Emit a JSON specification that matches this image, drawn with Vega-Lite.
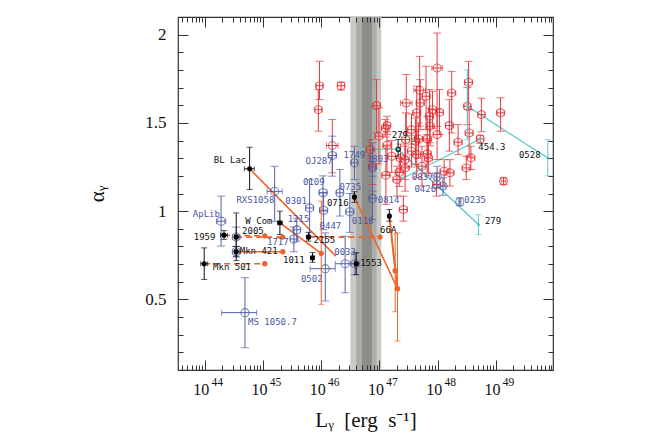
{
  "$schema": "https://vega.github.io/schema/vega-lite/v6.json",
  "autosize": {"type": "none"},
  "padding": {"left": 178, "top": 17, "right": 101, "bottom": 66},
  "width": 375,
  "height": 353,
  "config": {"view": {"stroke": "#333", "strokeWidth": 1.2}, "font": "Liberation Serif"},
  "resolve": {"axis": {"x": "independent", "y": "independent"}, "scale": {"color": "independent", "strokeDash": "independent"}},
  "datasets": {
    "band": [
      {"lvl": 1, "lo": 46.50, "hi": 47.03},
      {"lvl": 2, "lo": 46.60, "hi": 46.95},
      {"lvl": 3, "lo": 46.70, "hi": 46.87}
    ],
    "fsrq": [
      {"L": 47.99, "a": 1.811, "lo": 1.48, "hi": 2.01, "Llo": 47.90, "Lhi": 48.08},
      {"L": 48.53, "a": 1.730, "lo": 1.575, "hi": 1.849, "Llo": 48.46, "Lhi": 48.60},
      {"L": 48.24, "a": 1.670, "lo": 1.443, "hi": 1.792, "Llo": 48.17, "Lhi": 48.31},
      {"L": 47.69, "a": 1.685, "lo": 1.481, "hi": 1.877, "Llo": 47.59, "Lhi": 47.79},
      {"L": 47.80, "a": 1.651, "lo": 1.462, "hi": 1.821, "Llo": 47.73, "Lhi": 47.87},
      {"L": 47.46, "a": 1.613, "lo": 1.443, "hi": 1.774, "Llo": 47.36, "Lhi": 47.56},
      {"L": 47.70, "a": 1.613, "lo": 1.462, "hi": 1.745, "Llo": 47.63, "Lhi": 47.77},
      {"L": 46.95, "a": 1.598, "lo": 1.443, "hi": 1.745, "Llo": 46.88, "Lhi": 47.02},
      {"L": 45.97, "a": 1.711, "lo": 1.632, "hi": 1.849, "Llo": 45.91, "Lhi": 46.03},
      {"L": 45.95, "a": 1.575, "lo": 1.453, "hi": 1.689, "Llo": 45.89, "Lhi": 46.01},
      {"L": 46.34, "a": 1.711, "lo": 1.685, "hi": 1.730, "Llo": 46.28, "Lhi": 46.40},
      {"L": 48.51, "a": 1.594, "lo": 1.49, "hi": 1.70, "Llo": 48.45, "Lhi": 48.57},
      {"L": 48.75, "a": 1.547, "lo": 1.45, "hi": 1.64, "Llo": 48.69, "Lhi": 48.81},
      {"L": 49.08, "a": 1.557, "lo": 1.453, "hi": 1.642, "Llo": 49.01, "Lhi": 49.15},
      {"L": 47.64, "a": 1.557, "lo": 1.406, "hi": 1.708, "Llo": 47.57, "Lhi": 47.71},
      {"L": 47.86, "a": 1.538, "lo": 1.387, "hi": 1.689, "Llo": 47.79, "Lhi": 47.93},
      {"L": 48.03, "a": 1.560, "lo": 1.434, "hi": 1.689, "Llo": 47.96, "Lhi": 48.10},
      {"L": 48.20, "a": 1.485, "lo": 1.340, "hi": 1.632, "Llo": 48.13, "Lhi": 48.27},
      {"L": 47.87, "a": 1.481, "lo": 1.37, "hi": 1.58, "Llo": 47.80, "Lhi": 47.94},
      {"L": 47.13, "a": 1.485, "lo": 1.434, "hi": 1.538, "Llo": 47.07, "Lhi": 47.19},
      {"L": 47.10, "a": 1.470, "lo": 1.42, "hi": 1.52, "Llo": 47.04, "Lhi": 47.16},
      {"L": 46.99, "a": 1.425, "lo": 1.268, "hi": 1.585, "Llo": 46.92, "Lhi": 47.06},
      {"L": 47.13, "a": 1.374, "lo": 1.202, "hi": 1.45, "Llo": 47.06, "Lhi": 47.20},
      {"L": 47.45, "a": 1.406, "lo": 1.255, "hi": 1.557, "Llo": 47.38, "Lhi": 47.52},
      {"L": 47.62, "a": 1.396, "lo": 1.264, "hi": 1.528, "Llo": 47.55, "Lhi": 47.69},
      {"L": 47.82, "a": 1.409, "lo": 1.283, "hi": 1.538, "Llo": 47.75, "Lhi": 47.89},
      {"L": 47.99, "a": 1.434, "lo": 1.292, "hi": 1.575, "Llo": 47.92, "Lhi": 48.06},
      {"L": 48.35, "a": 1.391, "lo": 1.321, "hi": 1.491, "Llo": 48.28, "Lhi": 48.42},
      {"L": 48.54, "a": 1.443, "lo": 1.311, "hi": 1.575, "Llo": 48.47, "Lhi": 48.61},
      {"L": 46.84, "a": 1.349, "lo": 1.300, "hi": 1.406, "Llo": 46.77, "Lhi": 46.91},
      {"L": 46.19, "a": 1.372, "lo": 1.217, "hi": 1.519, "Llo": 46.09, "Lhi": 46.29},
      {"L": 47.44, "a": 1.292, "lo": 1.179, "hi": 1.406, "Llo": 47.37, "Lhi": 47.51},
      {"L": 47.64, "a": 1.321, "lo": 1.189, "hi": 1.453, "Llo": 47.57, "Lhi": 47.71},
      {"L": 47.82, "a": 1.325, "lo": 1.217, "hi": 1.434, "Llo": 47.75, "Lhi": 47.89},
      {"L": 48.57, "a": 1.302, "lo": 1.236, "hi": 1.368, "Llo": 48.50, "Lhi": 48.64},
      {"L": 47.73, "a": 1.255, "lo": 1.142, "hi": 1.368, "Llo": 47.66, "Lhi": 47.80},
      {"L": 48.49, "a": 1.245, "lo": 1.179, "hi": 1.311, "Llo": 48.42, "Lhi": 48.56},
      {"L": 48.21, "a": 1.217, "lo": 1.142, "hi": 1.292, "Llo": 48.14, "Lhi": 48.28},
      {"L": 48.11, "a": 1.226, "lo": 1.142, "hi": 1.292, "Llo": 48.04, "Lhi": 48.18},
      {"L": 47.11, "a": 1.204, "lo": 1.038, "hi": 1.368, "Llo": 47.04, "Lhi": 47.18},
      {"L": 47.30, "a": 1.179, "lo": 1.085, "hi": 1.255, "Llo": 47.23, "Lhi": 47.37},
      {"L": 47.44, "a": 1.245, "lo": 1.113, "hi": 1.368, "Llo": 47.37, "Lhi": 47.51},
      {"L": 47.41, "a": 1.009, "lo": 0.943, "hi": 1.085, "Llo": 47.34, "Lhi": 47.48},
      {"L": 49.13, "a": 1.170, "lo": 1.151, "hi": 1.189, "Llo": 49.09, "Lhi": 49.17},
      {"L": 46.88, "a": 1.255, "lo": 1.151, "hi": 1.349, "Llo": 46.81, "Lhi": 46.95},
      {"L": 47.21, "a": 1.311, "lo": 1.22, "hi": 1.40, "Llo": 47.14, "Lhi": 47.28},
      {"L": 47.98, "a": 1.151, "lo": 1.085, "hi": 1.217, "Llo": 47.91, "Lhi": 48.05},
      {"L": 47.55, "a": 1.462, "lo": 1.38, "hi": 1.55, "Llo": 47.48, "Lhi": 47.62},
      {"L": 47.91, "a": 1.575, "lo": 1.47, "hi": 1.68, "Llo": 47.84, "Lhi": 47.98},
      {"L": 48.73, "a": 1.409, "lo": 1.385, "hi": 1.43, "Llo": 48.67, "Lhi": 48.79},
      {"L": 47.55, "a": 1.340, "lo": 1.25, "hi": 1.43, "Llo": 47.48, "Lhi": 47.62},
      {"L": 47.34, "a": 1.220, "lo": 1.14, "hi": 1.30, "Llo": 47.27, "Lhi": 47.41},
      {"L": 47.36, "a": 1.300, "lo": 1.22, "hi": 1.38, "Llo": 47.29, "Lhi": 47.43},
      {"L": 47.67, "a": 1.409, "lo": 1.30, "hi": 1.50, "Llo": 47.60, "Lhi": 47.74},
      {"L": 47.84, "a": 1.300, "lo": 1.20, "hi": 1.40, "Llo": 47.77, "Lhi": 47.91}
    ],
    "bll": [
      {"L": 44.28, "a": 0.943, "lo": 0.802, "hi": 1.085, "Llo": 44.20, "Lhi": 44.36},
      {"L": 44.69, "a": 0.425, "lo": 0.226, "hi": 0.623, "Llo": 44.29, "Lhi": 44.89},
      {"L": 45.20, "a": 1.112, "lo": 0.942, "hi": 1.254, "Llo": 45.07, "Lhi": 45.33},
      {"L": 45.80, "a": 1.018, "lo": 0.857, "hi": 1.178, "Llo": 45.73, "Lhi": 45.87},
      {"L": 45.58, "a": 0.895, "lo": 0.83, "hi": 0.96, "Llo": 45.52, "Lhi": 45.64},
      {"L": 45.53, "a": 0.842, "lo": 0.77, "hi": 0.91, "Llo": 45.47, "Lhi": 45.59},
      {"L": 46.03, "a": 1.105, "lo": 1.00, "hi": 1.20, "Llo": 45.96, "Lhi": 46.10},
      {"L": 46.04, "a": 1.005, "lo": 0.895, "hi": 1.103, "Llo": 45.97, "Lhi": 46.11},
      {"L": 46.32, "a": 1.104, "lo": 0.972, "hi": 1.236, "Llo": 46.26, "Lhi": 46.38},
      {"L": 46.49, "a": 0.996, "lo": 0.88, "hi": 1.10, "Llo": 46.42, "Lhi": 46.56},
      {"L": 46.07, "a": 0.674, "lo": 0.491, "hi": 0.877, "Llo": 45.81, "Lhi": 46.24},
      {"L": 46.41, "a": 0.702, "lo": 0.538, "hi": 0.858, "Llo": 46.24, "Lhi": 46.58},
      {"L": 46.58, "a": 0.702, "lo": 0.64, "hi": 0.764, "Llo": 46.50, "Lhi": 46.66},
      {"L": 46.19, "a": 1.315, "lo": 1.198, "hi": 1.425, "Llo": 46.12, "Lhi": 46.26},
      {"L": 46.57, "a": 1.274, "lo": 1.179, "hi": 1.368, "Llo": 46.52, "Lhi": 46.62},
      {"L": 46.88, "a": 1.245, "lo": 1.113, "hi": 1.387, "Llo": 46.83, "Lhi": 46.93},
      {"L": 46.88, "a": 1.072, "lo": 0.953, "hi": 1.198, "Llo": 46.83, "Lhi": 46.93},
      {"L": 47.99, "a": 1.194, "lo": 1.132, "hi": 1.255, "Llo": 47.95, "Lhi": 48.03},
      {"L": 48.09, "a": 1.142, "lo": 1.09, "hi": 1.19, "Llo": 48.05, "Lhi": 48.13},
      {"L": 48.38, "a": 1.053, "lo": 1.03, "hi": 1.075, "Llo": 48.36, "Lhi": 48.40},
      {"L": 44.54, "a": 0.853, "lo": 0.80, "hi": 0.91, "Llo": 44.48, "Lhi": 44.60},
      {"L": 44.54, "a": 0.770, "lo": 0.74, "hi": 0.80, "Llo": 44.48, "Lhi": 44.60}
    ],
    "blk": [
      {"L": 44.77, "a": 1.240, "lo": 1.123, "hi": 1.362, "Llo": 44.68, "Lhi": 44.85},
      {"L": 45.29, "a": 0.934, "lo": 0.868, "hi": 1.000, "Llo": 45.25, "Lhi": 45.33},
      {"L": 44.33, "a": 0.864, "lo": 0.84, "hi": 0.89, "Llo": 44.27, "Lhi": 44.39},
      {"L": 44.54, "a": 0.853, "lo": 0.744, "hi": 0.990, "Llo": 44.51, "Lhi": 44.57},
      {"L": 44.54, "a": 0.770, "lo": 0.72, "hi": 0.80, "Llo": 44.51, "Lhi": 44.57},
      {"L": 43.99, "a": 0.702, "lo": 0.613, "hi": 0.792, "Llo": 43.93, "Lhi": 44.05},
      {"L": 45.85, "a": 0.736, "lo": 0.71, "hi": 0.765, "Llo": 45.82, "Lhi": 45.88},
      {"L": 45.78, "a": 0.853, "lo": 0.83, "hi": 0.88, "Llo": 45.75, "Lhi": 45.81},
      {"L": 46.57, "a": 1.080, "lo": 1.05, "hi": 1.11, "Llo": 46.55, "Lhi": 46.59},
      {"L": 46.60, "a": 0.702, "lo": 0.64, "hi": 0.764, "Llo": 46.57, "Lhi": 46.63},
      {"L": 47.17, "a": 0.972, "lo": 0.943, "hi": 1.009, "Llo": 47.15, "Lhi": 47.19},
      {"L": 47.32, "a": 1.351, "lo": 1.311, "hi": 1.406, "Llo": 47.30, "Lhi": 47.34}
    ],
    "oline": [
      {"id": "BLLac", "sim": "yes", "L": 44.77, "a": 1.240},
      {"id": "BLLac", "sim": "yes", "L": 46.25, "a": 0.745},
      {"id": "WCom", "sim": "yes", "L": 45.29, "a": 0.934},
      {"id": "WCom", "sim": "yes", "L": 46.00, "a": 0.760},
      {"id": "1959", "sim": "no", "L": 44.33, "a": 0.864},
      {"id": "1959", "sim": "no", "L": 45.03, "a": 0.860},
      {"id": "2005", "sim": "no", "L": 44.54, "a": 0.853},
      {"id": "2005", "sim": "no", "L": 45.34, "a": 0.853},
      {"id": "Mkn421", "sim": "yes", "L": 44.54, "a": 0.770},
      {"id": "Mkn421", "sim": "yes", "L": 45.34, "a": 0.770},
      {"id": "Mkn501", "sim": "no", "L": 43.99, "a": 0.702},
      {"id": "Mkn501", "sim": "no", "L": 45.03, "a": 0.702},
      {"id": "2155", "sim": "no", "L": 45.78, "a": 0.853},
      {"id": "2155", "sim": "no", "L": 47.01, "a": 0.853},
      {"id": "0716", "sim": "yes", "L": 46.57, "a": 1.080},
      {"id": "0716", "sim": "yes", "L": 47.31, "a": 0.561},
      {"id": "66A1", "sim": "yes", "L": 47.17, "a": 0.972},
      {"id": "66A1", "sim": "yes", "L": 47.27, "a": 0.663},
      {"id": "66A2", "sim": "yes", "L": 47.17, "a": 0.972},
      {"id": "66A2", "sim": "yes", "L": 47.31, "a": 0.561}
    ],
    "opt": [
      {"L": 46.00, "a": 0.760, "lo": 0.472, "hi": 1.057},
      {"L": 45.03, "a": 0.860, "lo": null, "hi": null},
      {"L": 45.34, "a": 0.853, "lo": null, "hi": null},
      {"L": 45.34, "a": 0.770, "lo": null, "hi": null},
      {"L": 45.03, "a": 0.702, "lo": null, "hi": null},
      {"L": 47.01, "a": 0.853, "lo": null, "hi": null},
      {"L": 47.27, "a": 0.663, "lo": 0.43, "hi": 0.87},
      {"L": 47.31, "a": 0.561, "lo": 0.264, "hi": 0.877}
    ],
    "cline": [
      {"trk": "279", "L": 46.70, "a": 1.351, "lo": null, "hi": null},
      {"trk": "279", "L": 47.32, "a": 1.351, "lo": null, "hi": null},
      {"trk": "279", "L": 48.70, "a": 0.924, "lo": 0.867, "hi": 0.980},
      {"trk": "454.3", "L": 47.41, "a": 1.188, "lo": null, "hi": null},
      {"trk": "454.3", "L": 48.73, "a": 1.409, "lo": null, "hi": null},
      {"trk": "0528", "L": 48.51, "a": 1.594, "lo": 1.405, "hi": 1.80},
      {"trk": "0528", "L": 49.89, "a": 1.301, "lo": 1.20, "hi": 1.405}
    ],
    "lab": [
      {"t": "BL Lac", "L": 44.154, "a": 1.292, "grp": "blk"},
      {"t": "RXS1058", "L": 44.543, "a": 1.066, "grp": "bll"},
      {"t": "0301", "L": 45.383, "a": 1.057, "grp": "bll"},
      {"t": "0109", "L": 45.686, "a": 1.164, "grp": "bll"},
      {"t": "OJ287", "L": 45.731, "a": 1.283, "grp": "bll"},
      {"t": "1749", "L": 46.383, "a": 1.317, "grp": "bll"},
      {"t": "1803", "L": 46.783, "a": 1.296, "grp": "bll"},
      {"t": "0735", "L": 46.314, "a": 1.136, "grp": "bll"},
      {"t": "0716", "L": 46.097, "a": 1.047, "grp": "blk"},
      {"t": "1215", "L": 45.423, "a": 0.957, "grp": "bll"},
      {"t": "W Com", "L": 44.697, "a": 0.947, "grp": "blk"},
      {"t": "ApLib", "L": 43.794, "a": 0.985, "grp": "bll"},
      {"t": "1959", "L": 43.811, "a": 0.855, "grp": "blk"},
      {"t": "2005", "L": 44.640, "a": 0.887, "grp": "blk"},
      {"t": "Mkn 421", "L": 44.600, "a": 0.774, "grp": "blk"},
      {"t": "1717", "L": 45.069, "a": 0.826, "grp": "bll"},
      {"t": "2155", "L": 45.869, "a": 0.836, "grp": "blk"},
      {"t": "0447", "L": 45.971, "a": 0.915, "grp": "bll"},
      {"t": "0118", "L": 46.526, "a": 0.947, "grp": "bll"},
      {"t": "0814", "L": 46.971, "a": 1.066, "grp": "bll"},
      {"t": "66A", "L": 47.011, "a": 0.896, "grp": "blk"},
      {"t": "1011", "L": 45.343, "a": 0.726, "grp": "blk"},
      {"t": "Mkn 501", "L": 44.143, "a": 0.685, "grp": "blk"},
      {"t": "0033", "L": 46.223, "a": 0.768, "grp": "bll"},
      {"t": "1553", "L": 46.669, "a": 0.704, "grp": "blk"},
      {"t": "0502", "L": 45.651, "a": 0.617, "grp": "bll"},
      {"t": "MS 1050.7", "L": 44.743, "a": 0.374, "grp": "bll"},
      {"t": "279", "L": 47.211, "a": 1.434, "grp": "blk"},
      {"t": "454.3", "L": 48.697, "a": 1.366, "grp": "blk"},
      {"t": "0528", "L": 49.394, "a": 1.317, "grp": "blk"},
      {"t": "0837", "L": 47.554, "a": 1.192, "grp": "bll"},
      {"t": "0426", "L": 47.600, "a": 1.128, "grp": "bll"},
      {"t": "0235", "L": 48.457, "a": 1.066, "grp": "bll"},
      {"t": "279", "L": 48.811, "a": 0.947, "grp": "blk"}
    ]
  },
  "layer": [
    {
      "data": {"name": "band"},
      "mark": {"type": "rect"},
      "encoding": {
        "x": {"field": "lo", "type": "quantitative", "scale": {"domain": [43.54, 49.98], "nice": false, "zero": false}, "axis": null},
        "x2": {"field": "hi"},
        "color": {"field": "lvl", "type": "ordinal", "scale": {"domain": [1, 2, 3], "range": ["#c9c9c5", "#acaca8", "#8c8c88"]}, "legend": null}
      }
    },
    {
      "data": {"name": "blk"},
      "mark": {"type": "point", "opacity": 0},
      "encoding": {
        "x": {"field": "L", "type": "quantitative", "axis": {"orient": "bottom", "values": [44, 45, 46, 47, 48, 49], "labelExpr": "'10'", "ticks": false, "domain": false, "grid": false, "labelFont": "Liberation Serif", "labelFontSize": 16, "labelColor": "#111", "labelPadding": 11, "labelOffset": -4, "labelFlush": false, "labelOverlap": false, "title": "Lᵧ\u00a0 [erg\u00a0 s⁻¹]", "titleFont": "Liberation Serif", "titleFontSize": 21, "titleFontWeight": "normal", "titleColor": "#111", "titlePadding": 12}},
        "y": {"field": "a", "type": "quantitative", "scale": {"domain": [0.1, 2.1], "nice": false, "zero": false}, "axis": {"orient": "left", "values": [0.5, 1, 1.5, 2], "format": "~g", "ticks": false, "domain": false, "grid": false, "labelFont": "Liberation Serif", "labelFontSize": 17, "labelColor": "#111", "labelPadding": 12, "labelFlush": false, "title": "αᵧ", "titleFont": "Liberation Serif", "titleFontSize": 21, "titleFontWeight": "normal", "titleColor": "#111", "titlePadding": 37}}
      }
    },
    {
      "data": {"name": "blk"},
      "mark": {"type": "point", "opacity": 0},
      "encoding": {
        "x": {"field": "L", "type": "quantitative", "axis": {"orient": "bottom", "values": [44, 45, 46, 47, 48, 49], "format": "d", "ticks": false, "domain": false, "grid": false, "labelFont": "Liberation Serif", "labelFontSize": 11.5, "labelColor": "#111", "labelPadding": 6, "labelOffset": 12, "labelFlush": false, "labelOverlap": false, "title": null}}
      }
    },
    {
      "data": {"name": "blk"},
      "mark": {"type": "point", "opacity": 0},
      "encoding": {
        "x": {"field": "L", "type": "quantitative", "axis": {"orient": "bottom", "offset": -10, "values": [44, 45, 46, 47, 48, 49], "labels": false, "domain": false, "grid": false, "tickSize": 10, "tickColor": "#333", "tickWidth": 1, "title": null, "zindex": 1}},
        "y": {"field": "a", "type": "quantitative", "axis": {"orient": "left", "offset": -10, "values": [0.5, 1, 1.5, 2], "labels": false, "domain": false, "grid": false, "tickSize": 10, "tickColor": "#333", "tickWidth": 1, "title": null, "zindex": 1}}
      }
    },
    {
      "data": {"name": "blk"},
      "mark": {"type": "point", "opacity": 0},
      "encoding": {
        "x": {"field": "L", "type": "quantitative", "axis": {"orient": "bottom", "offset": -5, "values": [43.602, 43.699, 43.778, 43.845, 43.903, 43.954, 44.301, 44.477, 44.602, 44.699, 44.778, 44.845, 44.903, 44.954, 45.301, 45.477, 45.602, 45.699, 45.778, 45.845, 45.903, 45.954, 46.301, 46.477, 46.602, 46.699, 46.778, 46.845, 46.903, 46.954, 47.301, 47.477, 47.602, 47.699, 47.778, 47.845, 47.903, 47.954, 48.301, 48.477, 48.602, 48.699, 48.778, 48.845, 48.903, 48.954, 49.301, 49.477, 49.602, 49.699, 49.778, 49.845, 49.903, 49.954], "labels": false, "domain": false, "grid": false, "tickSize": 5, "tickColor": "#333", "tickWidth": 1, "title": null, "zindex": 1}},
        "y": {"field": "a", "type": "quantitative", "axis": {"orient": "left", "offset": -5, "values": [0.2, 0.3, 0.4, 0.6, 0.7, 0.8, 0.9, 1.1, 1.2, 1.3, 1.4, 1.6, 1.7, 1.8, 1.9, 2.0], "labels": false, "domain": false, "grid": false, "tickSize": 5, "tickColor": "#333", "tickWidth": 1, "title": null, "zindex": 1}}
      }
    },
    {
      "data": {"name": "blk"},
      "mark": {"type": "point", "opacity": 0},
      "encoding": {
        "x": {"field": "L", "type": "quantitative", "axis": {"orient": "top", "offset": -10, "values": [44, 45, 46, 47, 48, 49], "labels": false, "domain": false, "grid": false, "tickSize": 10, "tickColor": "#333", "tickWidth": 1, "title": null, "zindex": 1}},
        "y": {"field": "a", "type": "quantitative", "axis": {"orient": "right", "offset": -10, "values": [0.5, 1, 1.5, 2], "labels": false, "domain": false, "grid": false, "tickSize": 10, "tickColor": "#333", "tickWidth": 1, "title": null, "zindex": 1}}
      }
    },
    {
      "data": {"name": "blk"},
      "mark": {"type": "point", "opacity": 0},
      "encoding": {
        "x": {"field": "L", "type": "quantitative", "axis": {"orient": "top", "offset": -5, "values": [43.602, 43.699, 43.778, 43.845, 43.903, 43.954, 44.301, 44.477, 44.602, 44.699, 44.778, 44.845, 44.903, 44.954, 45.301, 45.477, 45.602, 45.699, 45.778, 45.845, 45.903, 45.954, 46.301, 46.477, 46.602, 46.699, 46.778, 46.845, 46.903, 46.954, 47.301, 47.477, 47.602, 47.699, 47.778, 47.845, 47.903, 47.954, 48.301, 48.477, 48.602, 48.699, 48.778, 48.845, 48.903, 48.954, 49.301, 49.477, 49.602, 49.699, 49.778, 49.845, 49.903, 49.954], "labels": false, "domain": false, "grid": false, "tickSize": 5, "tickColor": "#333", "tickWidth": 1, "title": null, "zindex": 1}},
        "y": {"field": "a", "type": "quantitative", "axis": {"orient": "right", "offset": -5, "values": [0.2, 0.3, 0.4, 0.6, 0.7, 0.8, 0.9, 1.1, 1.2, 1.3, 1.4, 1.6, 1.7, 1.8, 1.9, 2.0], "labels": false, "domain": false, "grid": false, "tickSize": 5, "tickColor": "#333", "tickWidth": 1, "title": null, "zindex": 1}}
      }
    },
    {
      "data": {"name": "oline"},
      "mark": {"type": "line", "color": "#ef6428", "strokeWidth": 1.6},
      "encoding": {
        "x": {"field": "L", "type": "quantitative", "axis": null},
        "y": {"field": "a", "type": "quantitative", "axis": null},
        "detail": {"field": "id"},
        "strokeDash": {"field": "sim", "type": "nominal", "scale": {"domain": ["yes", "no"], "range": [[1, 0], [6, 4]]}, "legend": null}
      }
    },
    {
      "data": {"name": "cline"},
      "mark": {"type": "line", "color": "#5cc8cf", "strokeWidth": 1.3},
      "encoding": {
        "x": {"field": "L", "type": "quantitative", "axis": null},
        "y": {"field": "a", "type": "quantitative", "axis": null},
        "detail": {"field": "trk"}
      }
    },
    {
      "data": {"name": "fsrq"},
      "mark": {"type": "errorbar", "color": "#e6383d", "ticks": {"size": 8}, "thickness": 1},
      "encoding": {
        "x": {"field": "L", "type": "quantitative", "axis": null},
        "y": {"field": "lo", "type": "quantitative", "axis": null},
        "y2": {"field": "hi"}
      }
    },
    {
      "data": {"name": "fsrq"},
      "mark": {"type": "errorbar", "color": "#e6383d", "ticks": {"size": 6}, "thickness": 1},
      "encoding": {
        "y": {"field": "a", "type": "quantitative", "axis": null},
        "x": {"field": "Llo", "type": "quantitative", "axis": null},
        "x2": {"field": "Lhi"}
      }
    },
    {
      "data": {"name": "fsrq"},
      "mark": {"type": "point", "shape": "circle", "filled": false, "size": 62, "strokeWidth": 1.1, "color": "#e0262c"},
      "encoding": {
        "x": {"field": "L", "type": "quantitative", "axis": null},
        "y": {"field": "a", "type": "quantitative", "axis": null}
      }
    },
    {
      "data": {"name": "bll"},
      "mark": {"type": "errorbar", "color": "#5462aa", "ticks": {"size": 8}, "thickness": 1},
      "encoding": {
        "x": {"field": "L", "type": "quantitative", "axis": null},
        "y": {"field": "lo", "type": "quantitative", "axis": null},
        "y2": {"field": "hi"}
      }
    },
    {
      "data": {"name": "bll"},
      "mark": {"type": "errorbar", "color": "#5462aa", "ticks": {"size": 6}, "thickness": 1},
      "encoding": {
        "y": {"field": "a", "type": "quantitative", "axis": null},
        "x": {"field": "Llo", "type": "quantitative", "axis": null},
        "x2": {"field": "Lhi"}
      }
    },
    {
      "data": {"name": "bll"},
      "mark": {"type": "point", "shape": "circle", "filled": false, "size": 66, "strokeWidth": 1.1, "color": "#4a58a6"},
      "encoding": {
        "x": {"field": "L", "type": "quantitative", "axis": null},
        "y": {"field": "a", "type": "quantitative", "axis": null}
      }
    },
    {
      "data": {"name": "blk"},
      "mark": {"type": "errorbar", "color": "#111", "ticks": {"size": 6}, "thickness": 1},
      "encoding": {
        "x": {"field": "L", "type": "quantitative", "axis": null},
        "y": {"field": "lo", "type": "quantitative", "axis": null},
        "y2": {"field": "hi"}
      }
    },
    {
      "data": {"name": "blk"},
      "mark": {"type": "errorbar", "color": "#111", "ticks": {"size": 5}, "thickness": 1},
      "encoding": {
        "y": {"field": "a", "type": "quantitative", "axis": null},
        "x": {"field": "Llo", "type": "quantitative", "axis": null},
        "x2": {"field": "Lhi"}
      }
    },
    {
      "data": {"name": "blk"},
      "mark": {"type": "circle", "size": 26, "color": "#000", "opacity": 1},
      "encoding": {
        "x": {"field": "L", "type": "quantitative", "axis": null},
        "y": {"field": "a", "type": "quantitative", "axis": null}
      }
    },
    {
      "data": {"name": "opt"},
      "mark": {"type": "errorbar", "color": "#ef6428", "ticks": {"size": 6}, "thickness": 1},
      "encoding": {
        "x": {"field": "L", "type": "quantitative", "axis": null},
        "y": {"field": "lo", "type": "quantitative", "axis": null},
        "y2": {"field": "hi"}
      }
    },
    {
      "data": {"name": "opt"},
      "mark": {"type": "circle", "size": 28, "color": "#ef6428", "opacity": 1},
      "encoding": {
        "x": {"field": "L", "type": "quantitative", "axis": null},
        "y": {"field": "a", "type": "quantitative", "axis": null}
      }
    },
    {
      "data": {"name": "cline"},
      "mark": {"type": "errorbar", "color": "#5cc8cf", "ticks": {"size": 6}, "thickness": 1},
      "encoding": {
        "x": {"field": "L", "type": "quantitative", "axis": null},
        "y": {"field": "lo", "type": "quantitative", "axis": null},
        "y2": {"field": "hi"}
      }
    },
    {
      "data": {"name": "cline"},
      "mark": {"type": "circle", "size": 10, "color": "#5cc8cf", "opacity": 1},
      "encoding": {
        "x": {"field": "L", "type": "quantitative", "axis": null},
        "y": {"field": "a", "type": "quantitative", "axis": null}
      }
    },
    {
      "data": {"name": "lab"},
      "mark": {"type": "text", "align": "left", "baseline": "middle", "font": "DejaVu Sans Mono", "fontSize": 9},
      "encoding": {
        "x": {"field": "L", "type": "quantitative", "axis": null},
        "y": {"field": "a", "type": "quantitative", "axis": null},
        "text": {"field": "t"},
        "color": {"field": "grp", "type": "nominal", "scale": {"domain": ["blk", "bll"], "range": ["#111111", "#4a57a5"]}, "legend": null}
      }
    }
  ]
}
